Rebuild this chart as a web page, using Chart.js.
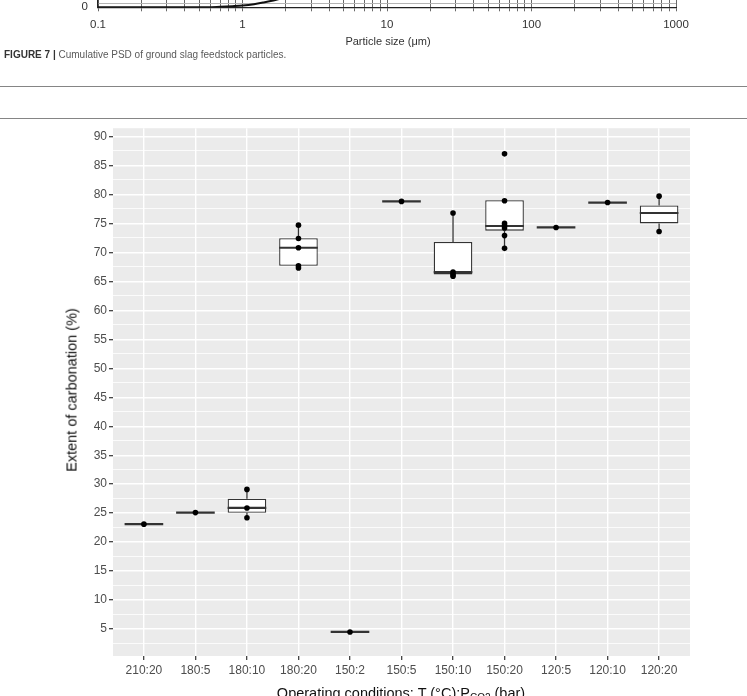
<!DOCTYPE html>
<html>
<head>
<meta charset="utf-8">
<script src="https://cdn.jsdelivr.net/npm/chart.js@4.4.1/dist/chart.umd.min.js"></script>
<style>
  html, body { margin:0; padding:0; background:#fff; }
  body { position:relative; width:747px; height:696px; overflow:hidden; font-family:'Liberation Sans', Arial, sans-serif; }
  #psdWrap { position:absolute; left:0; top:-400px; width:747px; height:460px; }
  #mainWrap { position:absolute; left:0; top:119px; width:747px; height:577px; }
  .rule { position:absolute; left:0; width:747px; height:1px; background:#858585; }
  #psdTitle { position:absolute; left:288px; width:200px; text-align:center; top:35px; font-size:11px; line-height:13px; color:#333; }
  #caption { position:absolute; left:4px; top:49px; font-size:10px; line-height:12px; color:#5a5a5a; white-space:nowrap; }
  #caption b { color:#333; }
  #yTitle { position:absolute; left:72px; top:390px; transform:translate(-50%,-50%) rotate(-90deg); font-size:14.5px; line-height:17px; color:#111; white-space:nowrap; }
  #xTitle { position:absolute; left:201px; width:400px; text-align:center; top:685px; font-size:14.5px; line-height:17px; color:#111; white-space:nowrap; }
  #xTitle sub { font-size:10px; vertical-align:-3px; line-height:0; }
</style>
</head>
<body>
<div id="psdWrap"><canvas id="psd"></canvas></div>
<div id="psdTitle">Particle size (μm)</div>
<div id="caption"><b>FIGURE 7 |</b> Cumulative PSD of ground slag feedstock particles.</div>
<div class="rule" style="top:86px"></div>
<div class="rule" style="top:118px"></div>
<div id="mainWrap"><canvas id="main"></canvas></div>
<div id="yTitle">Extent of carbonation (%)</div>
<div id="xTitle">Operating conditions: T (°C):P<sub>CO2</sub> (bar)</div>
<script>
// ---------- Data: partial cumulative PSD (previous figure, cropped) ----------
const psdSizes      = [0.1, 0.3, 0.5, 0.57, 0.7, 0.85, 1.0, 1.2, 1.4, 1.6, 2, 3, 5, 10, 20, 50, 100, 200, 500, 1000];
const psdCumulative = [0,   0,   0,   0,    0.12, 0.28, 0.45, 0.8, 1.25, 1.7, 2.6, 5.5, 11, 25, 45, 75, 92, 99, 100, 100];
const psdMajorTicks = [0.1, 1, 10, 100, 1000];
const psdTickLabels = ['0.1', '1', '10', '100', '1000'];

// ---------- Data: extent of carbonation boxplot ----------
const categories = ['210:20','180:5','180:10','180:20','150:2','150:5','150:10','150:20','120:5','120:10','120:20'];
const pointValues = [
  [23.1],
  [25.1],
  [29.1, 25.9, 24.2],
  [74.7, 72.4, 70.8, 67.7, 67.3],
  [4.5],
  [78.8],
  [76.8, 66.6, 66.2, 65.9],
  [87.0, 78.9, 75.0, 74.6, 74.2, 72.9, 70.7],
  [74.3],
  [78.6],
  [79.7, 73.6]
];
const boxQ1       = [23.1, 25.1, 25.05, 67.7, 4.5, 78.8, 66.2, 73.75, 74.3, 78.6, 75.0];
const boxMedian   = [23.1, 25.1, 25.9,  70.8, 4.5, 78.8, 66.6, 74.55, 74.3, 78.6, 76.8];
const boxQ3       = [23.1, 25.1, 27.5,  72.45,4.5, 78.8, 71.8, 79.0,  74.3, 78.6, 78.1];
const whiskerLow  = [23.1, 25.1, 24.2,  67.3, 4.5, 78.8, 65.9, 70.7,  74.3, 78.6, 73.6];
const whiskerHigh = [23.1, 25.1, 29.1,  74.7, 4.5, 78.8, 76.8, 79.0,  74.3, 78.6, 79.7];
const yTickLabels = [5,10,15,20,25,30,35,40,45,50,55,60,65,70,75,80,85,90];

// ---------- Top partial chart ----------
const psdTickValues = [];
psdMajorTicks.forEach((m, k) => {
  if (k === psdMajorTicks.length - 1) { psdTickValues.push(m); return; }
  for (let j = 1; j <= 9; j++) psdTickValues.push(+(m * j).toPrecision(6));
});
const psdYTicks = [];
for (let v = 0; v <= 100; v++) psdYTicks.push(v);

new Chart(document.getElementById('psd'), {
  type: 'line',
  data: { datasets: [{
    data: psdSizes.map((s, i) => ({ x: s, y: psdCumulative[i] })),
    borderColor: '#111', borderWidth: 2, pointRadius: 0, cubicInterpolationMode: 'monotone', fill: false
  }]},
  options: {
    responsive: true, maintainAspectRatio: false, animation: false, events: [],
    devicePixelRatio: 1,
    layout: { padding: { top: 7.3, right: 71, left: 0, bottom: 0 } },
    plugins: { legend: { display: false }, tooltip: { enabled: false } },
    scales: {
      x: {
        type: 'logarithmic', min: 0.1, max: 1000,
        afterBuildTicks: s => { s.ticks = psdTickValues.map(v => ({ value: v })); },
        afterFit: s => { s.height = 52.7; },
        ticks: {
          autoSkip: false, maxRotation: 0, minRotation: 0, padding: 7, color: '#333',
          font: { family: "'Liberation Sans', Arial, sans-serif", size: 11.5 },
          callback: v => {
            const k = psdMajorTicks.findIndex(m => Math.abs(Math.log10(m) - Math.log10(v)) < 1e-6);
            return k >= 0 ? psdTickLabels[k] : '';
          }
        },
        grid: { color: '#6a6a6a', lineWidth: 1, tickLength: 4 },
        border: { color: '#222', width: 1.3 }
      },
      y: {
        min: 0, max: 100,
        afterBuildTicks: s => { s.ticks = psdYTicks.map(v => ({ value: v })); },
        afterFit: s => { s.width = 98; },
        ticks: {
          autoSkip: false, padding: 10, color: '#333',
          font: { family: "'Liberation Sans', Arial, sans-serif", size: 11.5 },
          callback: v => (v % 10 === 0 ? String(v) : '')
        },
        grid: { color: '#b4b4b4', lineWidth: 1, drawTicks: false },
        border: { color: '#222', width: 1.3 }
      }
    }
  }
});

// ---------- Main boxplot chart ----------
const minorTicks = yTickLabels.map(v => v - 2.5);
const yAllTicks = yTickLabels.concat(minorTicks).sort((a, b) => a - b);
const isMajor = v => yTickLabels.some(t => Math.abs(t - v) < 1e-6);

const scatterData = [];
pointValues.forEach((vals, i) => vals.forEach(v => scatterData.push({ x: i, y: v })));

const boxData = [];
categories.forEach((c, i) => {
  if (boxQ3[i] > boxQ1[i]) boxData.push({ x: i, y: [boxQ1[i], boxQ3[i]] });
});

const boxPlugin = {
  id: 'boxParts',
  beforeDraw(chart) {
    const { ctx, chartArea: a } = chart;
    ctx.save();
    ctx.fillStyle = '#EBEBEB';
    ctx.fillRect(a.left, a.top, a.right - a.left, a.bottom - a.top);
    ctx.restore();
  },
  afterDatasetDraw(chart, args) {
    if (args.index !== 1) return;
    const { ctx, scales: { x, y } } = chart;
    const half = 0.375 * Math.abs(x.getPixelForValue(1) - x.getPixelForValue(0));
    ctx.save();
    ctx.strokeStyle = '#333';
    ctx.lineCap = 'butt';
    const seg = (x1, y1, x2, y2, w) => {
      ctx.lineWidth = w; ctx.beginPath(); ctx.moveTo(x1, y1); ctx.lineTo(x2, y2); ctx.stroke();
    };
    categories.forEach((c, i) => {
      const px = x.getPixelForValue(i);
      if (whiskerHigh[i] > boxQ3[i]) seg(px, y.getPixelForValue(boxQ3[i]), px, y.getPixelForValue(whiskerHigh[i]), 1.3);
      if (whiskerLow[i] < boxQ1[i]) seg(px, y.getPixelForValue(boxQ1[i]), px, y.getPixelForValue(whiskerLow[i]), 1.3);
      const my = y.getPixelForValue(boxMedian[i]);
      seg(px - half, my, px + half, my, 2.2);
    });
    ctx.restore();
  }
};

new Chart(document.getElementById('main'), {
  type: 'bar',
  data: {
    datasets: [
      {
        type: 'scatter', order: 0, data: scatterData,
        pointRadius: 2.8, pointBackgroundColor: '#000', pointBorderWidth: 0, pointHoverRadius: 2.8
      },
      {
        type: 'bar', order: 1, data: boxData,
        backgroundColor: '#ffffff', borderColor: '#333', borderWidth: 1.3, borderSkipped: false,
        categoryPercentage: 1.0, barPercentage: 0.75
      }
    ]
  },
  options: {
    responsive: true, maintainAspectRatio: false, animation: false, events: [],
    devicePixelRatio: 1,
    layout: { padding: { top: 8, right: 57, left: 0, bottom: 0 } },
    plugins: { legend: { display: false }, tooltip: { enabled: false } },
    scales: {
      x: {
        type: 'linear', min: -0.6, max: 10.6, offset: false,
        afterBuildTicks: s => { s.ticks = categories.map((c, i) => ({ value: i })); },
        afterFit: s => { s.height = 40; },
        ticks: {
          autoSkip: false, maxRotation: 0, minRotation: 0, padding: 3, color: '#4D4D4D',
          font: { family: "'Liberation Sans', Arial, sans-serif", size: 12 },
          callback: v => categories[Math.round(v)]
        },
        grid: { color: '#ffffff', lineWidth: 1.4, tickColor: '#333', tickWidth: 1.2, tickLength: 4, offset: false },
        border: { display: false }
      },
      y: {
        min: 0.35, max: 91.43,
        afterBuildTicks: s => { s.ticks = yAllTicks.map(v => ({ value: v })); },
        afterFit: s => { s.width = 113; },
        ticks: {
          autoSkip: false, padding: 2, color: '#4D4D4D',
          font: { family: "'Liberation Sans', Arial, sans-serif", size: 12 },
          callback: v => (isMajor(v) ? String(v) : '')
        },
        grid: {
          color: '#ffffff',
          lineWidth: c => (c.tick && isMajor(c.tick.value) ? 1.4 : 0.8),
          tickColor: c => (c.tick && isMajor(c.tick.value) ? '#333' : 'rgba(0,0,0,0)'),
          tickWidth: 1.2, tickLength: 4
        },
        border: { display: false }
      }
    }
  },
  plugins: [boxPlugin]
});
</script>
</body>
</html>
